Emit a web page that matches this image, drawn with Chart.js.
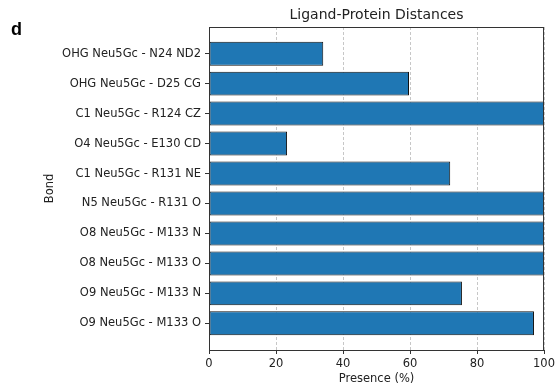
<!DOCTYPE html>
<html>
<head>
<meta charset="utf-8">
<script src="https://cdn.jsdelivr.net/npm/chart.js@4"></script>
<style>
  html, body { margin: 0; padding: 0; background: #fff; }
  #wrap { width: 558px; height: 385px; position: relative; }
</style>
</head>
<body>
<div id="wrap"><canvas id="c" width="558" height="385"></canvas></div>
<script>
const bonds = [
  'OHG Neu5Gc - N24 ND2',
  'OHG Neu5Gc - D25 CG',
  'C1 Neu5Gc - R124 CZ',
  'O4 Neu5Gc - E130 CD',
  'C1 Neu5Gc - R131 NE',
  'N5 Neu5Gc - R131 O',
  'O8 Neu5Gc - M133 N',
  'O8 Neu5Gc - M133 O',
  'O9 Neu5Gc - M133 N',
  'O9 Neu5Gc - M133 O'
];
const presence = [34.1, 59.7, 100, 23.3, 72.0, 100, 100, 100, 75.5, 97.0];
const xTicks = [0, 20, 40, 60, 80, 100];
const chartTitle = 'Ligand-Protein Distances';
const panelLetter = 'd';
const xTitle = 'Presence (%)';
const yTitle = 'Bond';

const FONT = 'DejaVu Sans';
const TXT = '#222';

const points = presence.map((v, i) => ({ x: v, y: i }));

const decor = {
  id: 'decor',
  afterDraw(chart) {
    const { ctx, chartArea: a } = chart;
    ctx.save();
    ctx.strokeStyle = '#333';
    ctx.lineWidth = 1;
    ctx.setLineDash([]);
    ctx.strokeRect(a.left + 0.5, a.top + 0.5, a.right - a.left - 1, a.bottom - a.top);
    ctx.fillStyle = TXT;
    ctx.font = '14px "' + FONT + '"';
    ctx.textAlign = 'center';
    ctx.textBaseline = 'middle';
    ctx.fillText(chartTitle, (a.left + a.right) / 2, 15);
    ctx.font = '11.5px "' + FONT + '"';
    ctx.fillText(xTitle, (a.left + a.right) / 2, 379);
    ctx.save();
    ctx.translate(50, (a.top + a.bottom) / 2);
    ctx.rotate(-Math.PI / 2);
    ctx.fillText(yTitle, 0, 0);
    ctx.restore();
    ctx.font = 'bold 18px "Liberation Sans"';
    ctx.fillStyle = '#000';
    ctx.textAlign = 'left';
    ctx.textBaseline = 'alphabetic';
    ctx.fillText(panelLetter, 11, 35);
    ctx.restore();
  }
};

new Chart(document.getElementById('c'), {
  type: 'bar',
  data: {
    datasets: [{
      data: points,
      backgroundColor: '#1f77b4',
      borderColor: '#111',
      borderWidth: 1,
      borderSkipped: false,
      categoryPercentage: 1,
      barPercentage: 0.8
    }]
  },
  options: {
    indexAxis: 'y',
    responsive: false,
    animation: false,
    devicePixelRatio: 1,
    layout: { padding: { top: 27, right: 13, left: 0, bottom: 0 } },
    plugins: { legend: { display: false }, tooltip: { enabled: false }, title: { display: false } },
    scales: {
      x: {
        type: 'linear',
        min: 0, max: 100,
        z: 1,
        offset: false,
        afterBuildTicks(s) { s.ticks = xTicks.map(v => ({ value: v })); },
        afterFit(s) { s.height = 35; },
        ticks: { color: TXT, font: { family: FONT, size: 11.5 }, padding: 3, maxRotation: 0 },
        grid: {
          offset: false,
          color: 'rgba(180,180,180,0.75)', lineWidth: 1,
          tickLength: 4, tickColor: '#333', tickBorderDash: [], tickWidth: 1
        },
        border: { display: false, dash: [3, 2] }
      },
      y: {
        type: 'linear',
        min: -0.89, max: 9.89,
        reverse: true,
        offset: false,
        afterBuildTicks(s) { s.ticks = bonds.map((_, i) => ({ value: i })); },
        afterFit(s) { s.width = 209; },
        ticks: {
          color: TXT, font: { family: FONT, size: 11.5 }, padding: 4,
          callback: (v) => bonds[v]
        },
        grid: { offset: false, drawOnChartArea: false, tickLength: 4, tickColor: '#333', tickWidth: 1 },
        border: { display: false }
      }
    }
  },
  plugins: [decor]
});
</script>
</body>
</html>
